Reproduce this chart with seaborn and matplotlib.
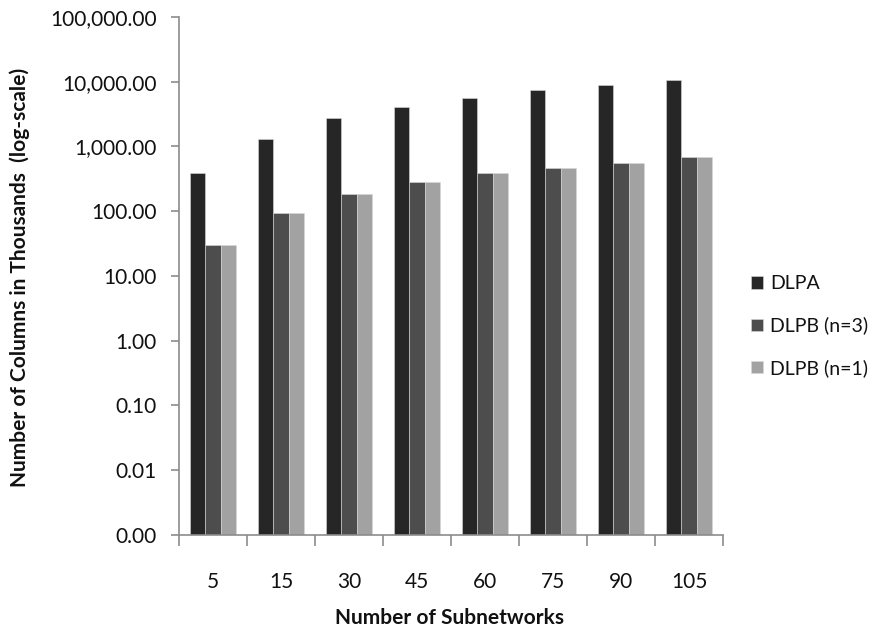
import matplotlib
matplotlib.use("Agg")
import matplotlib.pyplot as plt
from matplotlib.ticker import FuncFormatter, FixedLocator
import numpy as np
import pandas as pd
import seaborn as sns

# Number of subnetworks on the x axis
subnetworks = ["5", "15", "30", "45", "60", "75", "90", "105"]
# Columns (in thousands) for each formulation
dlpa = [390, 1290, 2720, 4120, 5680, 7380, 8810, 10640]
dlpb_n3 = [30, 93, 185, 286, 390, 471, 562, 689]
dlpb_n1 = [30, 93, 185, 286, 390, 471, 562, 689]
series_names = ["DLPA", "DLPB (n=3)", "DLPB (n=1)"]
series_colors = ["#262626", "#4d4d4d", "#a2a2a2"]

df = pd.DataFrame({
    "Subnetworks": subnetworks * 3,
    "Columns": dlpa + dlpb_n3 + dlpb_n1,
    "Series": [series_names[0]] * 8 + [series_names[1]] * 8 + [series_names[2]] * 8,
})

sns.set_theme(style="white")
plt.rcParams["font.family"] = ["Lato", "DejaVu Sans"]
text_color = "#111111"

fig = plt.figure(figsize=(8.8, 6.32), dpi=100)
ax = fig.add_axes([0.2034, 0.1535, 0.6182, 0.8196])

sns.barplot(data=df, x="Subnetworks", y="Columns", hue="Series",
            order=subnetworks, hue_order=series_names,
            palette=series_colors, width=0.68, gap=0,
            edgecolor="#d8d8d8", linewidth=0.4, saturation=1,
            ax=ax, legend=True)

ax.set_yscale("log")
ax.set_ylim(0.001, 100000)
ax.set_xlim(-0.5, len(subnetworks) - 0.5)
ax.yaxis.set_major_locator(FixedLocator([10.0 ** k for k in range(-3, 6)]))
ax.yaxis.set_minor_locator(FixedLocator([]))
ax.yaxis.set_major_formatter(FuncFormatter(lambda v, p: f"{v:,.2f}"))

# Category boundary ticks on the x axis, labels centered without ticks
ax.set_xticks(np.arange(len(subnetworks)))
ax.set_xticklabels(subnetworks)
ax.set_xticks(np.arange(len(subnetworks) + 1) - 0.5, minor=True)
ax.tick_params(axis="x", which="major", length=0, pad=27, labelsize=15, colors=text_color)
ax.tick_params(axis="x", which="minor", length=8, width=1.2, color="#8c8c8c", direction="out", bottom=True)
ax.tick_params(axis="y", which="major", length=6, width=1.2, color="#8c8c8c", direction="out",
               left=True, labelsize=15, colors=text_color, pad=10)

for side in ["top", "right"]:
    ax.spines[side].set_visible(False)
for side in ["left", "bottom"]:
    ax.spines[side].set_color("#8c8c8c")
    ax.spines[side].set_linewidth(1.2)

ax.set_xlabel("Number of Subnetworks", fontsize=15, fontweight="bold", color=text_color, va="center")
ax.xaxis.set_label_coords(0.498, -0.160)
ax.set_ylabel("Number of Columns in Thousands  (log-scale)", fontsize=15, fontweight="bold",
              color=text_color, va="center")
ax.yaxis.set_label_coords(-0.292, 0.498)

ax.legend(loc="upper left", bbox_to_anchor=(1.02, 0.535), frameon=False, fontsize=14,
          handlelength=0.6, handleheight=0.6, handletextpad=0.35, labelspacing=1.25, title=None,
          labelcolor=text_color)

fig.savefig("out.png", dpi=100)
